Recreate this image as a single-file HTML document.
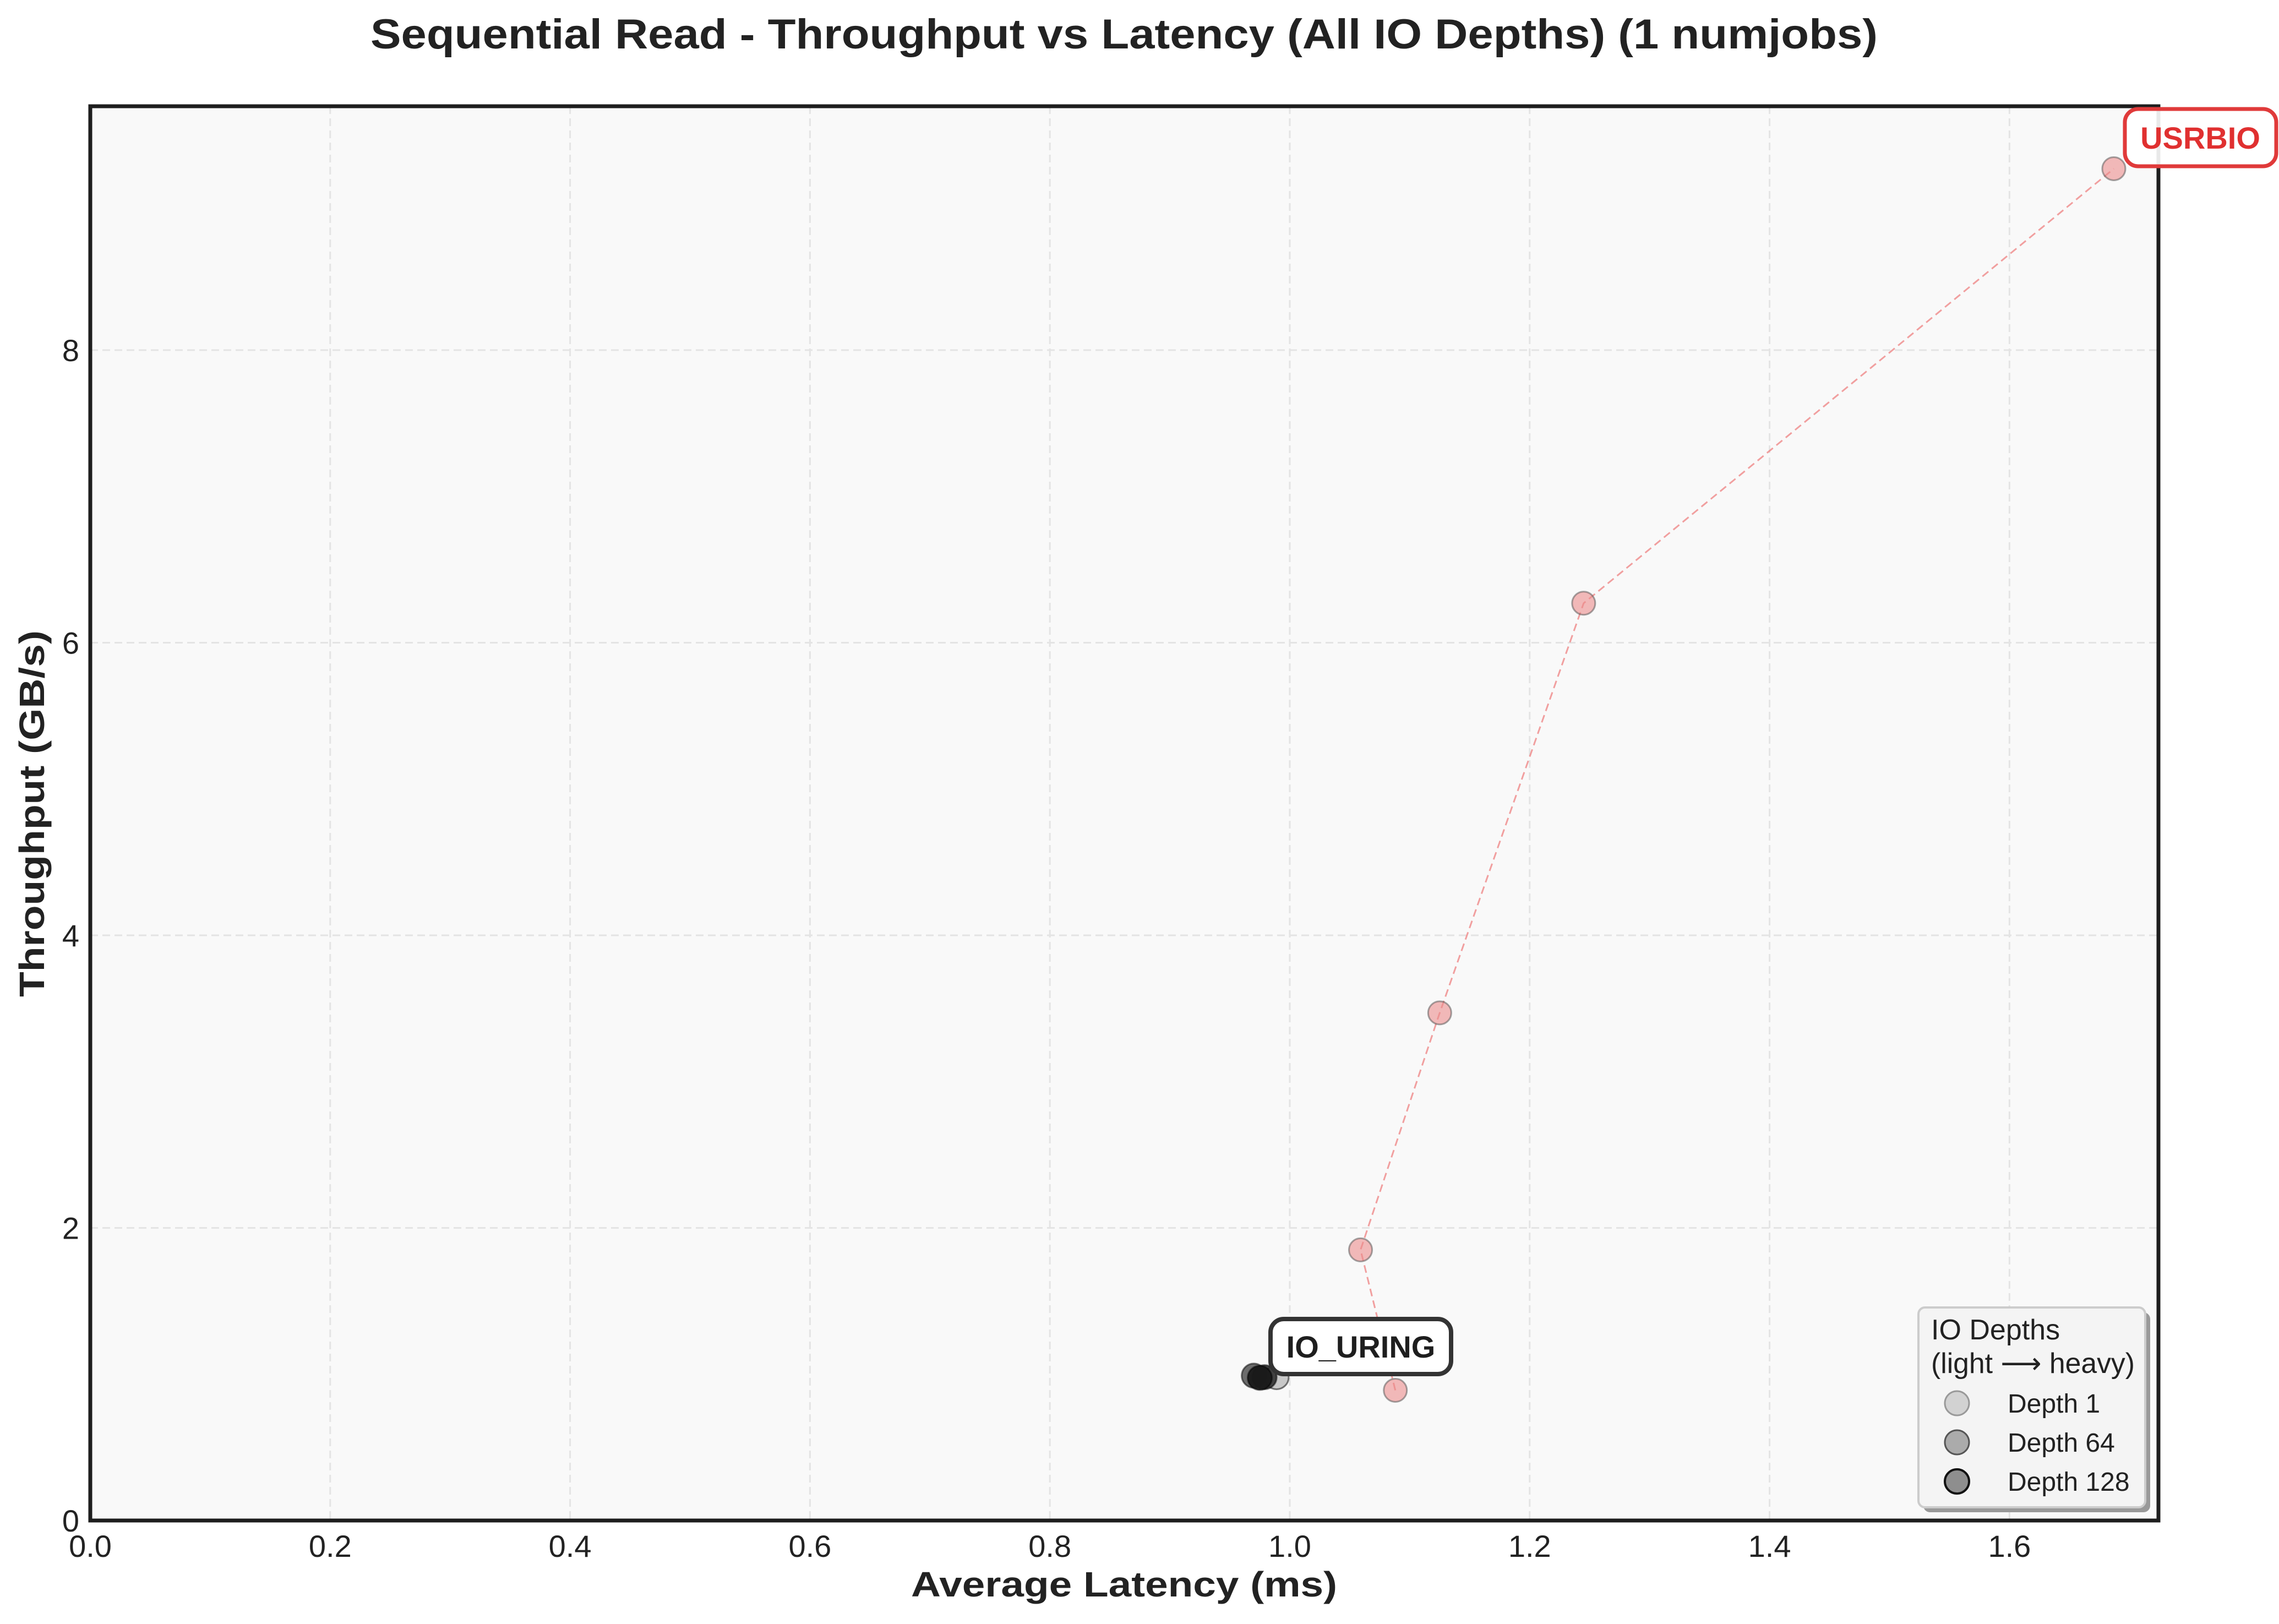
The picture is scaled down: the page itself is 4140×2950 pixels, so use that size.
<!DOCTYPE html>
<html><head><meta charset="utf-8"><style>
html,body{margin:0;padding:0;background:#fff;}
svg{display:block;font-family:"Liberation Sans",Arial,sans-serif;}
</style></head>
<body>
<svg id="chart" width="4140" height="2950" viewBox="0 0 4140 2950" xmlns="http://www.w3.org/2000/svg">
  <rect x="0" y="0" width="4140" height="2950" fill="#ffffff"/>
  <text x="2042" y="88" text-anchor="middle" font-size="76" font-weight="bold" fill="#222" textLength="2738" lengthAdjust="spacingAndGlyphs">Sequential Read - Throughput vs Latency (All IO Depths) (1 numjobs)</text>
  <rect x="164" y="193" width="3757" height="2569" fill="#f9f9f9"/>
  <g id="grid"></g>
  <g id="series"></g>
  <rect x="164" y="193" width="3757" height="2569" fill="none" stroke="#1e1e1e" stroke-width="7"/>
  <g id="ticks"></g>
  <text x="2042" y="2900" text-anchor="middle" font-size="64" font-weight="bold" fill="#222" textLength="774" lengthAdjust="spacingAndGlyphs">Average Latency (ms)</text>
  <text x="0" y="0" transform="translate(80,1478) rotate(-90)" text-anchor="middle" font-size="64" font-weight="bold" fill="#222" textLength="666" lengthAdjust="spacingAndGlyphs">Throughput (GB/s)</text>
  <g id="labels">
    <rect x="3860" y="198" width="275" height="104" rx="24" fill="#ffffff" fill-opacity="0.9" stroke="#e03a3a" stroke-width="7"/>
    <text x="3997" y="270" text-anchor="middle" font-size="56" font-weight="bold" fill="#e03030">USRBIO</text>
    <rect x="2308" y="2396" width="328" height="100" rx="24" fill="#ffffff" stroke="#333" stroke-width="8"/>
    <text x="2472" y="2466" text-anchor="middle" font-size="56" font-weight="bold" fill="#1e1e1e">IO_URING</text>
  </g>
  <g id="legend">
    <rect x="3494" y="2384" width="412" height="363" rx="12" fill="#999"/>
    <rect x="3485" y="2375" width="412" height="363" rx="12" fill="#f4f4f4" stroke="#cccccc" stroke-width="4"/>
    <text x="3508" y="2433" font-size="52" fill="#222">IO Depths</text>
    <text x="3508" y="2494" font-size="52" fill="#222" textLength="370" lengthAdjust="spacingAndGlyphs">(light ⟶ heavy)</text>
    <g>
      <circle cx="3555" cy="2549" r="22" fill="#d2d2d2" stroke="#999" stroke-width="3"/>
      <text x="3647" y="2566" font-size="48" fill="#222">Depth 1</text>
    </g>
    <g>
      <circle cx="3555" cy="2620" r="22" fill="#ababab" stroke="#555" stroke-width="3"/>
      <text x="3647" y="2637" font-size="48" fill="#222">Depth 64</text>
    </g>
    <g>
      <circle cx="3555" cy="2691" r="22" fill="#8e8e8e" stroke="#111" stroke-width="4"/>
      <text x="3647" y="2708" font-size="48" fill="#222">Depth 128</text>
    </g>
  </g>
</svg>
<script>
const xTicks = [0.0, 0.2, 0.4, 0.6, 0.8, 1.0, 1.2, 1.4, 1.6];
const xTickLabels = ["0.0","0.2","0.4","0.6","0.8","1.0","1.2","1.4","1.6"];
const yTicks = [0, 2, 4, 6, 8];
const yTickLabels = ["0","2","4","6","8"];
const usrbioLatency = [1.088, 1.059, 1.125, 1.245, 1.687];
const usrbioThroughput = [0.89, 1.85, 3.47, 6.27, 9.24];
const ioUringLatency = [0.989, 0.970, 0.979, 0.975];
const ioUringThroughput = [0.98, 0.99, 0.98, 0.975];
const ioUringShade = ["rgba(140,140,140,0.45)","rgba(60,60,60,0.75)","rgba(40,40,40,0.85)","rgba(25,25,25,0.95)"];

const NS = "http://www.w3.org/2000/svg";
const L = 164, R = 3921, T = 193, B = 2762;
const X_MAX = 1.7242, Y_MAX = 9.667;
function xs(v){ return L + v / X_MAX * (R - L); }
function ys(v){ return B - v / Y_MAX * (B - T); }
function mk(tag, attrs, parent){
  const e = document.createElementNS(NS, tag);
  for (const k in attrs) e.setAttribute(k, attrs[k]);
  parent.appendChild(e);
  return e;
}
const grid = document.getElementById('grid');
const ticks = document.getElementById('ticks');
const series = document.getElementById('series');

xTicks.forEach((v, i) => {
  const gl = mk('line', {x1: xs(v), x2: xs(v), y1: T, y2: B, stroke: '#e4e4e4', 'stroke-width': 3, 'stroke-dasharray': '14 8'}, grid);
  
  
  const t = mk('text', {x: xs(v), y: B + 66, 'text-anchor': 'middle', 'font-size': 56, fill: '#222'}, ticks);
  t.textContent = xTickLabels[i];
  
  
});
yTicks.forEach((v, i) => {
  const gl = mk('line', {x1: L, x2: R, y1: ys(v), y2: ys(v), stroke: '#e4e4e4', 'stroke-width': 3, 'stroke-dasharray': '14 8'}, grid);
  
  
  const t = mk('text', {x: L - 20, y: ys(v) + 20, 'text-anchor': 'end', 'font-size': 56, fill: '#222'}, ticks);
  t.textContent = yTickLabels[i];
  
  
});

const pts = usrbioLatency.map((v, i) => xs(v) + ',' + ys(usrbioThroughput[i])).join(' ');
const line = mk('polyline', {points: pts, fill: 'none', stroke: '#ee8080', 'stroke-opacity': 0.75, 'stroke-width': 3, 'stroke-dasharray': '14 8'}, series);


usrbioLatency.forEach((v, i) => {
  const c = mk('circle', {cx: xs(v), cy: ys(usrbioThroughput[i]), r: 21, fill: 'rgba(235,140,140,0.6)', stroke: 'rgba(80,80,80,0.5)', 'stroke-width': 3}, series);
  
  
});
ioUringLatency.forEach((v, i) => {
  const c = mk('circle', {cx: xs(v), cy: ys(ioUringThroughput[i]), r: 22, fill: ioUringShade[i], stroke: 'rgba(0,0,0,0.5)', 'stroke-width': 3}, series);
  
  
});
</script>
</body></html>
